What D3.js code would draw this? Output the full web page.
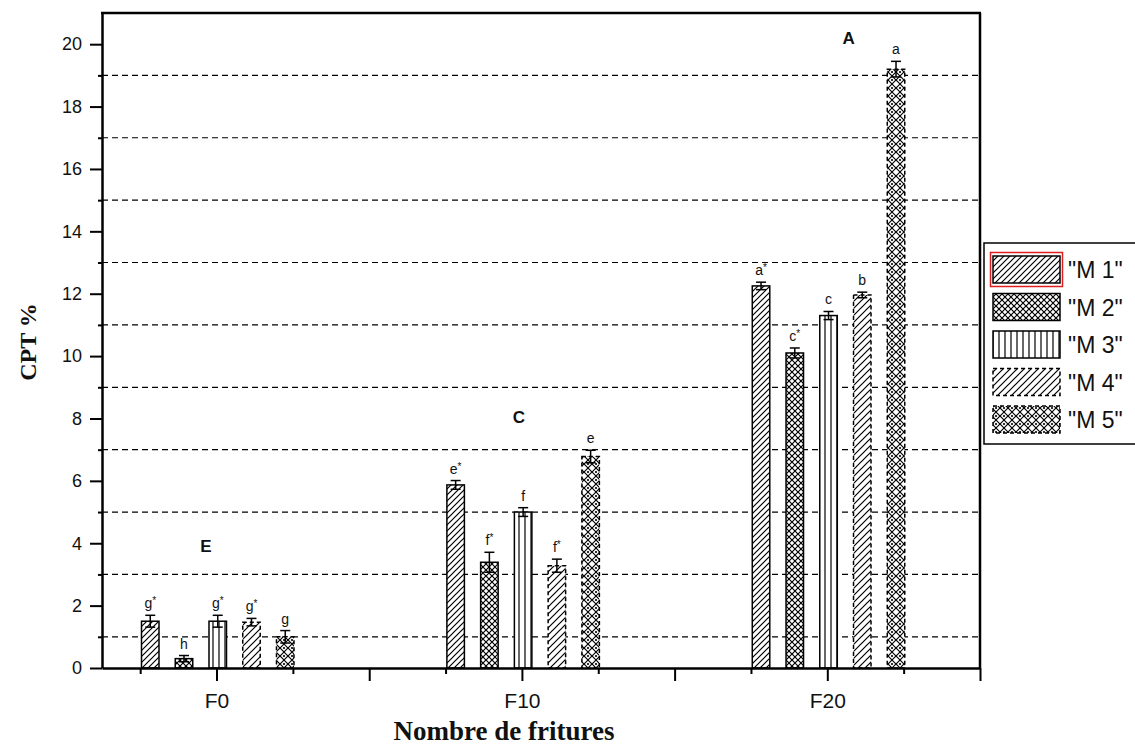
<!DOCTYPE html>
<html>
<head>
<meta charset="utf-8">
<script src="https://cdn.jsdelivr.net/npm/d3@7"></script>
<style>
  html, body { margin: 0; padding: 0; background: #fff; }
  svg { display: block; }
  text { font-family: "Liberation Sans", Arial, sans-serif; fill: #111; }
</style>
</head>
<body>
<script>
// Frying cycles and oil samples
const categories = ["F0", "F10", "F20"];
const series = ["M1", "M2", "M3", "M4", "M5"];
const legendLabels = ['"M 1"', '"M 2"', '"M 3"', '"M 4"', '"M 5"'];

// CPT % per sample (F0, F10, F20)
const valuesM1 = [1.5, 5.87, 12.25];
const valuesM2 = [0.3, 3.39, 10.1];
const valuesM3 = [1.5, 5.0, 11.3];
const valuesM4 = [1.47, 3.28, 11.96];
const valuesM5 = [1.0, 6.78, 19.2];

// Standard deviations
const errM1 = [0.19, 0.14, 0.12];
const errM2 = [0.1, 0.32, 0.16];
const errM3 = [0.19, 0.14, 0.13];
const errM4 = [0.12, 0.21, 0.09];
const errM5 = [0.2, 0.2, 0.25];

// Significance letters
const lettersM1 = ["g*", "e*", "a*"];
const lettersM2 = ["h", "f*", "c*"];
const lettersM3 = ["g*", "f", "c"];
const lettersM4 = ["g*", "f*", "b"];
const lettersM5 = ["g", "e", "a"];

// Group letters (placed at category offset, CPT value)
const groupLetters = ["E", "C", "A"];
const groupLetterX = [-0.035, -0.01, 0.07];
const groupLetterY = [3.85, 8.0, 20.15];

const yMajorTicks = [0, 2, 4, 6, 8, 10, 12, 14, 16, 18, 20];
const yMinorTicks = [1, 3, 5, 7, 9, 11, 13, 15, 17, 19];

const allValues = [valuesM1, valuesM2, valuesM3, valuesM4, valuesM5];
const allErr = [errM1, errM2, errM3, errM4, errM5];
const allLetters = [lettersM1, lettersM2, lettersM3, lettersM4, lettersM5];

const W = 1135, H = 749;
const svg = d3.select("body").append("svg").attr("width", W).attr("height", H);

const x = d3.scaleLinear().domain([-0.375, 2.5]).range([102, 980]);
const y = d3.scaleLinear().domain([0, 21]).range([668, 13]);

// Fill patterns
const defs = svg.append("defs");
function pat(id, w, h, draw) {
  const p = defs.append("pattern").attr("id", id)
    .attr("patternUnits", "userSpaceOnUse").attr("width", w).attr("height", h);
  p.append("rect").attr("width", w).attr("height", h).attr("fill", "#fff");
  draw(p);
}
pat("pM1", 6, 6, p => p.append("path")
  .attr("d", "M0,6 L6,0 M-1,1 L1,-1 M5,7 L7,5")
  .attr("stroke", "#000").attr("stroke-width", 1.2));
pat("pM2", 6, 6, p => p.append("path")
  .attr("d", "M0,0 L6,6 M6,0 L0,6")
  .attr("stroke", "#000").attr("stroke-width", 1.2));
pat("pM3", 6, 6, p => p.append("path")
  .attr("d", "M3,0 L3,6")
  .attr("stroke", "#000").attr("stroke-width", 1.2));
pat("pM4", 7, 7, p => p.append("path")
  .attr("d", "M0,7 L7,0 M-1,1 L1,-1 M6,8 L8,6")
  .attr("stroke", "#000").attr("stroke-width", 1.2));
pat("pM5", 8, 8, p => {
  p.append("path").attr("d", "M0,0 L8,8 M8,0 L0,8")
    .attr("stroke", "#000").attr("stroke-width", 1.2);
  p.append("circle").attr("cx", 4).attr("cy", 0).attr("r", 1.1).attr("fill", "#000");
  p.append("circle").attr("cx", 4).attr("cy", 8).attr("r", 1.1).attr("fill", "#000");
});
const dashedOutline = [false, false, false, true, true];

// Dashed grid at odd values
svg.append("g").selectAll("line").data(yMinorTicks).join("line")
  .attr("x1", x(-0.375)).attr("x2", x(2.5))
  .attr("y1", d => y(d)).attr("y2", d => y(d))
  .attr("stroke", "#000").attr("stroke-width", 1.2)
  .attr("stroke-dasharray", "6,4");

// Bars
const step = 0.1105;
const barW = x(0.0573) - x(0);
const bars = svg.append("g");
series.forEach((s, i) => {
  categories.forEach((c, j) => {
    const v = allValues[i][j];
    const e = allErr[i][j];
    const cx = x(j + (i - 2) * step + 0.004);
    bars.append("rect")
      .attr("x", cx - barW / 2).attr("y", y(v))
      .attr("width", barW).attr("height", y(0) - y(v))
      .attr("fill", `url(#p${s})`)
      .attr("stroke", "#000").attr("stroke-width", 1.5)
      .attr("stroke-dasharray", dashedOutline[i] ? "4,3" : null);
    // error bar
    const eb = bars.append("g").attr("stroke", "#000").attr("stroke-width", 1.5);
    eb.append("line").attr("x1", cx).attr("x2", cx).attr("y1", y(v - e)).attr("y2", y(v + e));
    eb.append("line").attr("x1", cx - 5).attr("x2", cx + 5).attr("y1", y(v + e)).attr("y2", y(v + e));
    eb.append("line").attr("x1", cx - 5).attr("x2", cx + 5).attr("y1", y(v - e)).attr("y2", y(v - e));
    // letter
    const lab = allLetters[i][j];
    const t = bars.append("text").attr("x", cx).attr("y", y(v + e) - 7)
      .attr("text-anchor", "middle").style("font-size", "14px");
    t.append("tspan").text(lab.replace("*", ""));
    if (lab.includes("*")) {
      t.append("tspan").attr("dy", -4).style("font-size", "10px").text("*");
    }
  });
});

// Group letters
svg.append("g").selectAll("text").data(groupLetters).join("text")
  .attr("x", (d, j) => x(j + groupLetterX[j]))
  .attr("y", (d, j) => y(groupLetterY[j]))
  .attr("text-anchor", "middle").attr("dominant-baseline", "middle")
  .style("font-size", "17px").style("font-weight", "bold")
  .text(d => d);

// Y axis
const yAxis = svg.append("g").attr("transform", `translate(${x(-0.375)},0)`)
  .call(d3.axisLeft(y).tickValues(yMajorTicks).tickSize(12).tickSizeOuter(0).tickPadding(8));
yAxis.select(".domain").attr("stroke-width", 2.5);
yAxis.selectAll(".tick line").attr("stroke-width", 2);
yAxis.selectAll(".tick text").style("font-size", "18px").style("font-family", "Liberation Sans, Arial, sans-serif");
svg.append("g").attr("transform", `translate(${x(-0.375)},0)`)
  .call(d3.axisLeft(y).tickValues(yMinorTicks).tickSize(4).tickFormat(""))
  .call(g => g.select(".domain").remove())
  .selectAll(".tick line").attr("stroke-width", 2);

// X axis
const xAxis = svg.append("g").attr("transform", `translate(0,${y(0)})`)
  .call(d3.axisBottom(x).tickValues([0, 0.5, 1, 1.5, 2, 2.5]).tickSize(13).tickSizeOuter(0)
    .tickFormat(d => Number.isInteger(d) ? categories[d] : "").tickPadding(12));
xAxis.select(".domain").attr("stroke-width", 2.5);
xAxis.selectAll(".tick line").attr("stroke-width", 2);
xAxis.selectAll(".tick text").style("font-size", "21px")
  .style("font-family", "'Liberation Sans Narrow', 'Arial Narrow', sans-serif");
svg.append("g").attr("transform", `translate(0,${y(0)})`)
  .call(d3.axisBottom(x).tickValues([-0.25, 0.25, 0.75, 1.25, 1.75, 2.25]).tickSize(6).tickFormat(""))
  .call(g => g.select(".domain").remove())
  .selectAll(".tick line").attr("stroke-width", 2);

// Top and right frame
svg.append("line").attr("x1", x(-0.375) - 1).attr("x2", x(2.5) + 1)
  .attr("y1", y(21)).attr("y2", y(21)).attr("stroke", "#000").attr("stroke-width", 2.5);
svg.append("line").attr("x1", x(2.5)).attr("x2", x(2.5))
  .attr("y1", y(21)).attr("y2", y(0)).attr("stroke", "#000").attr("stroke-width", 2.5);

// Axis titles
svg.append("text").attr("x", 504).attr("y", 740).attr("text-anchor", "middle")
  .style("font-family", "'Liberation Serif', 'Times New Roman', serif")
  .style("font-weight", "bold").style("font-size", "27px")
  .text("Nombre de fritures");
svg.append("text").attr("transform", "translate(36,342) rotate(-90)").attr("text-anchor", "middle")
  .style("font-family", "'Liberation Serif', 'Times New Roman', serif")
  .style("font-weight", "bold").style("font-size", "24px")
  .text("CPT %");

// Legend
const lg = svg.append("g");
lg.append("rect").attr("x", 984).attr("y", 243).attr("width", 160).attr("height", 201)
  .attr("fill", "#fff").attr("stroke", "#000").attr("stroke-width", 1.5);
series.forEach((s, i) => {
  const sy = 256 + i * 37.5;
  lg.append("rect").attr("x", 993).attr("y", sy).attr("width", 67).attr("height", 27)
    .attr("fill", `url(#p${s})`).attr("stroke", "#000").attr("stroke-width", 1.5)
    .attr("stroke-dasharray", dashedOutline[i] ? "4,3" : null);
  lg.append("text").attr("x", 1068).attr("y", sy + 22)
    .style("font-size", "23px").text(legendLabels[i]);
});
lg.append("rect").attr("x", 990.5).attr("y", 252.5).attr("width", 72).attr("height", 34)
  .attr("fill", "none").attr("stroke", "#e02020").attr("stroke-width", 1.5);
</script>
</body>
</html>
